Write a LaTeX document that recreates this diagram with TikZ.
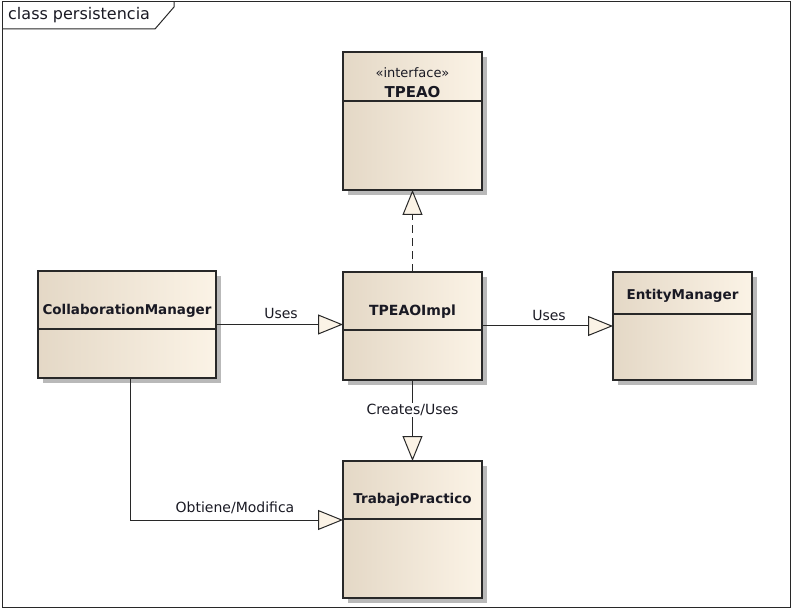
\documentclass[tikz,border=0pt]{standalone}
\usepackage{fontspec}
\setmainfont{DejaVu Sans}
\usetikzlibrary{arrows.meta}
\definecolor{boxl}{RGB}{228,216,198}
\definecolor{boxr}{RGB}{251,243,230}
\definecolor{edgec}{RGB}{40,40,40}
\definecolor{shad}{RGB}{185,185,185}
\definecolor{tipf}{RGB}{251,243,230}
\definecolor{txt}{RGB}{25,25,35}
\begin{document}
\begin{tikzpicture}[x=1pt,y=-1pt,
  umlbox/.style={draw=edgec, line width=1.2pt, left color=boxl, right color=boxr,
    inner sep=0pt, outer sep=0pt,
    preaction={fill=shad, transform canvas={xshift=5pt,yshift=-5pt}}},
  divider/.style={draw=edgec, line width=1.2pt},
  cname/.style={font=\fontsize{13.5}{15}\selectfont\bfseries, text=txt, inner sep=0pt},
  stereo/.style={font=\fontsize{13}{15}\selectfont, text=txt, inner sep=0pt},
  lbl/.style={font=\fontsize{14}{16}\selectfont, text=txt, inner sep=1pt},
  conn/.style={draw=edgec, line width=1pt},
  gen/.style={conn, -{Triangle[length=25pt,width=20pt,fill=tipf]}},
  real/.style={gen, dash pattern=on 8pt off 5pt}
]
\useasboundingbox (0,0) rectangle (792,609);
% frame
\draw[edgec, line width=1pt] (2,2) rectangle (790,607);
\draw[edgec, line width=1pt] (790.5,2) -- (790.5,607.5) -- (2,607.5);
\draw[edgec, line width=1pt] (2,29) -- (155,29) -- (174,7) -- (174,2);
\node[font=\fontsize{16}{18}\selectfont, text=txt, anchor=west, inner sep=0pt] (title) at (8,15.5) {class persistencia};

% boxes
\node[umlbox, minimum width=139pt, minimum height=138pt] (tpeao) at (412.5,121) {};
\node[umlbox, minimum width=178pt, minimum height=107pt] (cm) at (127,324.5) {};
\node[umlbox, minimum width=139pt, minimum height=108pt] (impl) at (412.5,326) {};
\node[umlbox, minimum width=139pt, minimum height=108pt] (em) at (682.5,326) {};
\node[umlbox, minimum width=139pt, minimum height=137pt] (tp) at (412.5,529.5) {};

% dividers
\draw[divider] (tpeao.west |- 0,101) -- (tpeao.east |- 0,101);
\draw[divider] (cm.west |- 0,329) -- (cm.east |- 0,329);
\draw[divider] (impl.west |- 0,330) -- (impl.east |- 0,330);
\draw[divider] (em.west |- 0,314) -- (em.east |- 0,314);
\draw[divider] (tp.west |- 0,519) -- (tp.east |- 0,519);

% names
\node[stereo] (tpeaoS) at (412.5,73) {«interface»};
\node[cname, font=\fontsize{15}{17}\selectfont\bfseries] (tpeaoN) at (412.5,92) {TPEAO};
\node[cname] (cmN) at (127,311) {CollaborationManager};
\node[cname, font=\fontsize{14}{16}\selectfont\bfseries] (implN) at (412.5,312) {TPEAOImpl};
\node[cname] (emN) at (682.5,296) {EntityManager};
\node[cname] (tpN) at (412.5,500) {TrabajoPractico};

% connectors
\coordinate (tpin) at (343,520);
\draw[gen] (cm.east) -- (cm.east -| impl.west);
\draw[gen] (impl.east) -- (em.west);
\draw[real] (impl.north) -- (tpeao.south);
\draw[gen] (impl.south) -- (tp.north);
\draw[gen] ([xshift=3pt]cm.south) |- (tpin);

% labels
\node[lbl] (l1) at (281,313) {Uses};
\node[lbl] (l2) at (549,315) {Uses};
\node[lbl, fill=white] (l3) at (412.5,410) {Creates/Uses};
\node[lbl] (l4) at (235,508) {Obtiene/Modifica};
\end{tikzpicture}
\end{document}
